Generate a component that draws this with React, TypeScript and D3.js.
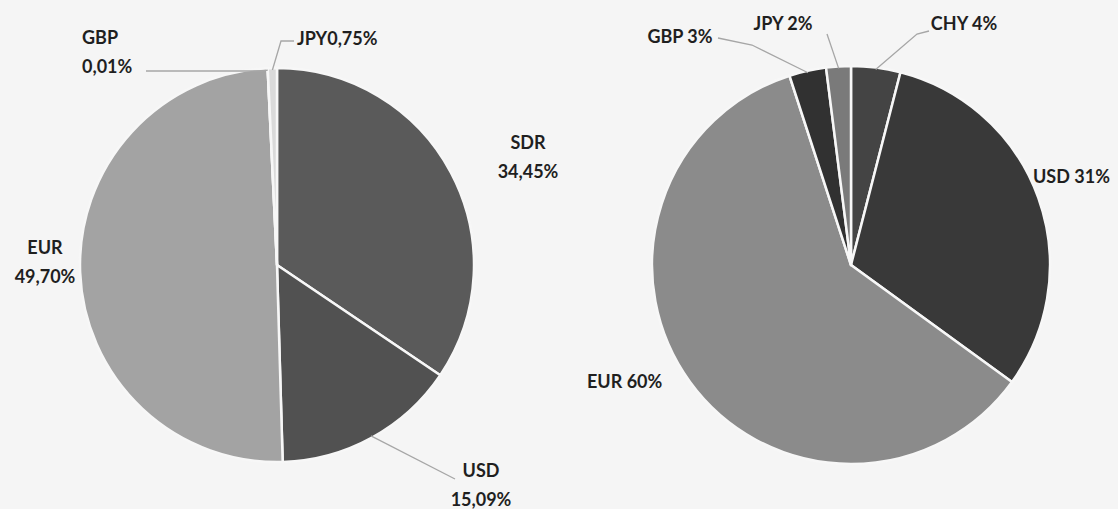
import React from "react";
import * as d3 from "d3";

// ---- Data ----
const leftCategories = ["SDR", "USD", "EUR", "GBP", "JPY"];
const leftValues = [34.45, 15.09, 49.7, 0.01, 0.75];
const leftLabelLines = [["SDR", "34,45%"], ["USD", "15,09%"], ["EUR", "49,70%"], ["GBP", "0,01%"], ["JPY0,75%"]];

const rightCategories = ["CHY", "USD", "EUR", "GBP", "JPY"];
const rightValues = [4, 31, 60, 3, 2];
const rightLabelLines = [["CHY 4%"], ["USD 31%"], ["EUR 60%"], ["GBP 3%"], ["JPY 2%"]];

// ---- Styles / layout ----
const W = 1118;
const H = 509;
const leftColors = ["#5a5a5a", "#515151", "#a3a3a3", "#8a8a8a", "#dadada"];
const rightColors = ["#444444", "#393939", "#8b8b8b", "#313131", "#7a7a7a"];

type LabelLayout = { x: number; y: number; anchor: string; leader?: [number, number][] };

const leftLayout: Record<string, LabelLayout> = {
  SDR: { x: 528, y: 142, anchor: "middle" },
  USD: { x: 481, y: 470, anchor: "middle", leader: [[455, 479]] },
  EUR: { x: 45, y: 247, anchor: "middle" },
  GBP: { x: 82, y: 37, anchor: "start", leader: [[146, 71], [262, 71]] },
  JPY: { x: 297, y: 38, anchor: "start", leader: [[294, 41], [281, 41]] },
};
const rightLayout: Record<string, LabelLayout> = {
  CHY: { x: 964, y: 23, anchor: "middle", leader: [[929, 31], [917, 34]] },
  USD: { x: 1033, y: 176, anchor: "start" },
  EUR: { x: 587, y: 381, anchor: "start" },
  GBP: { x: 680, y: 36, anchor: "middle", leader: [[718, 38], [752, 45]] },
  JPY: { x: 783, y: 23, anchor: "middle", leader: [[827, 34]] },
};

type PieProps = {
  cx: number;
  cy: number;
  r: number;
  categories: string[];
  values: number[];
  labels: string[][];
  colors: string[];
  layout: Record<string, LabelLayout>;
};

function Pie({ cx, cy, r, categories, values, labels, colors, layout }: PieProps) {
  const pie = d3.pie<number>().sort(null).startAngle(0).endAngle(2 * Math.PI);
  const arcs = pie(values);
  const arc = d3.arc<d3.PieArcDatum<number>>().innerRadius(0).outerRadius(r);
  const edgeArc = d3.arc<d3.PieArcDatum<number>>().innerRadius(r - 2).outerRadius(r - 2);
  return (
    <g>
      <g transform={`translate(${cx},${cy})`}>
        {arcs.map((a, i) => (
          <path key={i} d={arc(a) || ""} fill={colors[i]} stroke="#f7f7f7" strokeWidth={2.5} strokeLinejoin="round" />
        ))}
      </g>
      {arcs.map((a, i) => {
        const lay = layout[categories[i]];
        if (!lay.leader) return null;
        const [ex, ey] = edgeArc.centroid(a);
        const pts = [...lay.leader, [cx + ex, cy + ey]];
        return (
          <polyline
            key={"l" + i}
            points={pts.map((p) => p.join(",")).join(" ")}
            fill="none"
            stroke="#a6a6a6"
            strokeWidth={1.3}
          />
        );
      })}
      {categories.map((c, i) => {
        const lay = layout[c];
        return (
          <text
            key={"t" + i}
            x={lay.x}
            y={lay.y}
            textAnchor={lay.anchor}
            dominantBaseline="central"
            fontFamily="Lato, 'Open Sans', sans-serif"
            fontWeight={700}
            fontSize={18}
            fill="#1f1f1f"
          >
            {labels[i].map((ln, j) => (
              <tspan key={j} x={lay.x} dy={j === 0 ? 0 : 29}>
                {ln}
              </tspan>
            ))}
          </text>
        );
      })}
    </g>
  );
}

export default function App() {
  return (
    <svg
      width={W}
      height={H}
      style={{ position: "absolute", left: 0, top: 0, display: "block" }}
    >
      <rect x={0} y={0} width={W} height={H} fill="#f5f5f5" />
      <Pie
        cx={277}
        cy={265}
        r={197}
        categories={leftCategories}
        values={leftValues}
        labels={leftLabelLines}
        colors={leftColors}
        layout={leftLayout}
      />
      <Pie
        cx={851}
        cy={265}
        r={199}
        categories={rightCategories}
        values={rightValues}
        labels={rightLabelLines}
        colors={rightColors}
        layout={rightLayout}
      />
    </svg>
  );
}
